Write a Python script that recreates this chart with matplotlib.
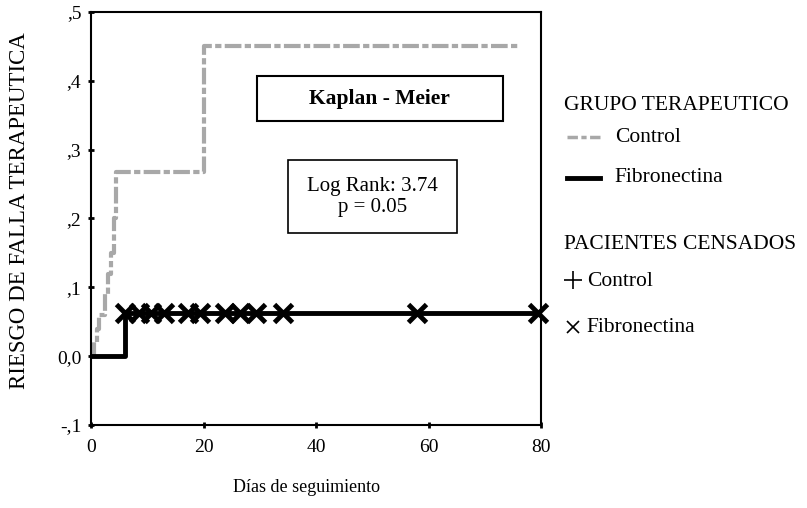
import matplotlib
matplotlib.use("Agg")
from matplotlib import pyplot as plt
from matplotlib.patches import Rectangle
from matplotlib.lines import Line2D

# Kaplan-Meier step data (days, cumulative risk)
control_t = [0, 0.5, 1.0, 1.5, 2.5, 3.0, 3.5, 4.0, 4.5, 20, 76]
control_r = [0, 0.02, 0.04, 0.06, 0.09, 0.12, 0.15, 0.20, 0.267, 0.45, 0.45]
fibro_t = [0, 6, 80]
fibro_r = [0, 0.0625, 0.0625]
# censored patients (Fibronectina)
cens_t = [6.0, 8.6, 10.7, 13.0, 17.2, 19.3, 23.8, 26.4, 29.4, 34.2, 57.9, 79.5]
cens_r = [0.0625] * len(cens_t)

xticks = [0, 20, 40, 60, 80]
yticks = [-0.1, 0.0, 0.1, 0.2, 0.3, 0.4, 0.5]
ytick_labels = ["-,1", "0,0", ",1", ",2", ",3", ",4", ",5"]

plt.rcParams['font.family'] = ['Liberation Serif', 'DejaVu Serif']

fig = plt.figure(figsize=(8.07, 5.08), dpi=100)
ax = fig.add_axes([0.1128, 0.1634, 0.5576, 0.813])

gray = '#a8a8a8'
ax.step(control_t, control_r, where='post', color=gray, lw=3, ls=(0, (4, 0.8, 1.5, 0.8)))
ax.step(fibro_t, fibro_r, where='post', color='black', lw=3.5)
ax.plot(cens_t, cens_r, ls='none', marker='x', ms=13, mew=3.5, color='black', clip_on=False)

ax.set_xlim(0, 80)
ax.set_ylim(-0.1, 0.5)
ax.set_xticks(xticks)
ax.set_yticks(yticks)
ax.set_yticklabels(ytick_labels)
ax.tick_params(direction='inout', length=4, width=2, labelsize=14)
ax.tick_params(axis='x', pad=8)
ax.tick_params(axis='y', pad=5)
for s in ax.spines.values():
    s.set_linewidth(1.5)

ax.set_ylabel("RIESGO DE FALLA TERAPEUTICA", fontsize=16.5)
ax.yaxis.set_label_coords(-0.136, 0.52)
ax.set_xlabel("Días de seguimiento", fontsize=13)
ax.xaxis.set_label_coords(0.478, -0.13)

# text boxes
ax.add_patch(Rectangle((0.369, 0.736), 0.546, 0.109, transform=ax.transAxes,
                       fill=False, lw=1.5, ec='black'))
ax.text(0.642, 0.790, "Kaplan - Meier", transform=ax.transAxes, ha='center', va='center',
        fontsize=15.5, fontweight='bold')
ax.add_patch(Rectangle((0.437, 0.464), 0.376, 0.177, transform=ax.transAxes,
                       fill=False, lw=1.2, ec='black'))
ax.text(0.625, 0.552, "Log Rank: 3.74\np = 0.05", transform=ax.transAxes, ha='center',
        va='center', fontsize=15, linespacing=1.15)

# legend drawn as figure text
fs = 15.5
fig.text(0.699, 0.793, "GRUPO TERAPEUTICO", fontsize=fs, va='center')
fig.lines.append(Line2D([0.703, 0.744], [0.730, 0.730], transform=fig.transFigure,
                        color=gray, lw=2.5, ls=(0, (3, 1, 1.5, 1))))
fig.text(0.762, 0.730, "Control", fontsize=fs, va='center')
fig.lines.append(Line2D([0.703, 0.744], [0.650, 0.650], transform=fig.transFigure,
                        color='black', lw=3.5))
fig.text(0.762, 0.650, "Fibronectina", fontsize=fs, va='center')
fig.text(0.699, 0.518, "PACIENTES CENSADOS", fontsize=fs, va='center')
fig.lines.append(Line2D([0.710], [0.449], transform=fig.transFigure, ls='none',
                        marker='+', ms=13, mew=1.2, color='black'))
fig.text(0.727, 0.445, "Control", fontsize=fs, va='center')
fig.lines.append(Line2D([0.710], [0.357], transform=fig.transFigure, ls='none',
                        marker='x', ms=9, mew=1.2, color='black'))
fig.text(0.727, 0.355, "Fibronectina", fontsize=fs, va='center')

fig.savefig('out.png', dpi=100)
